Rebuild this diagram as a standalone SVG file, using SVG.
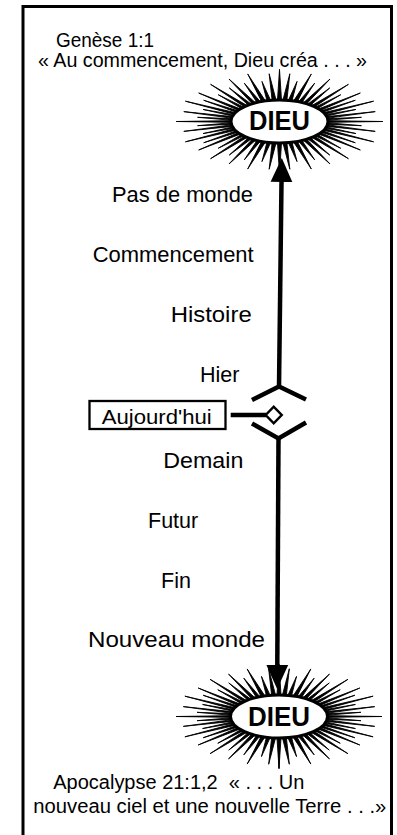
<svg xmlns="http://www.w3.org/2000/svg" xmlns:xlink="http://www.w3.org/1999/xlink" width="397" height="835" viewBox="0 0 397 835">
<style>
.lbl{font-family:"Liberation Sans",Arial,sans-serif;font-size:21.5px;fill:#000}
.verse{font-family:"Liberation Sans",Arial,sans-serif;font-size:20px;fill:#000}
.god{font-family:"Liberation Sans",Arial,sans-serif;font-size:27px;font-weight:bold;fill:#000;text-anchor:middle}
.ln{stroke:#000;stroke-width:4.5;fill:none}
.chev{stroke:#000;stroke-width:4.5;fill:none;stroke-linejoin:miter}
</style>
<defs>
<marker id="arr" markerUnits="userSpaceOnUse" markerWidth="24" markerHeight="24" viewBox="0 0 22 20" refX="0" refY="10" orient="auto">
<path d="M0,0 L22,10 L0,20 Z" fill="#000"/>
</marker>
<path id="quad" d="M0,0 L103,0 L43.94,0.89 L81.95,4.18 L43.46,2.66 L95.71,9.88 L42.50,4.40 L76.41,12.05 L41.08,6.09 L94.10,20.34 L39.20,7.72 L75.82,21.25 L36.90,9.26 L80.83,28.51 L34.19,10.70 L61.23,26.77 L31.11,12.02 L68.92,37.16 L27.69,13.21 L50.25,33.57 L23.96,14.26 L50.47,42.44 L19.98,15.15 L35.19,38.37 L15.77,15.87 L31.83,47.55 L11.39,16.42 L17.56,40.10 L6.88,16.79 L10.34,47.74 L2.30,16.98 L0,52 Z" fill="#000" stroke="#000" stroke-width="0.9" stroke-linejoin="miter"/>
<g id="burst">
<use xlink:href="#quad"/>
<use xlink:href="#quad" transform="scale(-1,1)"/>
<use xlink:href="#quad" transform="scale(1,-1)"/>
<use xlink:href="#quad" transform="scale(-1,-1)"/>
<ellipse cx="0" cy="0" rx="48.5" ry="21.5" fill="#fff" stroke="#000" stroke-width="3"/>
</g>
</defs>
<rect x="23" y="6.5" width="368.5" height="840" fill="#fff" stroke="#000" stroke-width="3"/>
<g id="verse-top">
<text class="verse" x="56" y="46.7" textLength="98" lengthAdjust="spacingAndGlyphs">Genèse 1:1</text>
<text class="verse" x="38" y="66.7" textLength="329" lengthAdjust="spacingAndGlyphs">« Au commencement, Dieu créa . . . »</text>
</g>
<g id="verse-bottom">
<text class="verse" x="53.3" y="789.3" textLength="251" lengthAdjust="spacingAndGlyphs" xml:space="preserve">Apocalypse 21:1,2  « . . . Un</text>
<text class="verse" x="33.3" y="813.3" textLength="353" lengthAdjust="spacingAndGlyphs">nouveau ciel et une nouvelle Terre . . .»</text>
</g>
<g id="connectors">
<line class="ln" x1="279" y1="387" x2="281.5" y2="182" marker-end="url(#arr)"/>
<line class="ln" x1="278.5" y1="438" x2="277.3" y2="665" marker-end="url(#arr)"/>
<line class="ln" x1="230.7" y1="415" x2="266" y2="415"/>
</g>
<g id="dieu-top" transform="translate(279.5,121.5)">
<use xlink:href="#burst"/>
<text class="god" x="0" y="8.5" textLength="61" lengthAdjust="spacingAndGlyphs">DIEU</text>
</g>
<g id="dieu-bottom" transform="translate(279,716.5)">
<use xlink:href="#burst"/>
<text class="god" x="0" y="9.5" textLength="62" lengthAdjust="spacingAndGlyphs">DIEU</text>
</g>
<g id="pas-de-monde"><text class="lbl" x="112" y="201.7" textLength="141" lengthAdjust="spacingAndGlyphs">Pas de monde</text></g>
<g id="commencement"><text class="lbl" x="92.7" y="261.7" textLength="161" lengthAdjust="spacingAndGlyphs">Commencement</text></g>
<g id="histoire"><text class="lbl" x="170.7" y="321.7" textLength="81" lengthAdjust="spacingAndGlyphs">Histoire</text></g>
<g id="hier"><text class="lbl" x="200" y="381.7">Hier</text></g>
<g id="aujourdhui">
<rect x="89.5" y="401" width="136" height="28" fill="#fff" stroke="#000" stroke-width="2.3"/>
<text class="lbl" x="101.7" y="424" style="font-size:19.5px" textLength="110" lengthAdjust="spacingAndGlyphs">Aujourd'hui</text>
</g>
<g id="present-marker">
<path class="chev" d="M252,400 L279,386.5 L306,399.5"/>
<path class="chev" d="M252,423.5 L278.5,438.5 L306,422.5"/>
<path d="M265.7,415 L273.7,406.7 L281.7,415 L273.7,423.3 Z" fill="#fff" stroke="#000" stroke-width="2.5"/>
</g>
<g id="demain"><text class="lbl" x="163.3" y="468" textLength="80" lengthAdjust="spacingAndGlyphs">Demain</text></g>
<g id="futur"><text class="lbl" x="148" y="528">Futur</text></g>
<g id="fin"><text class="lbl" x="161" y="588">Fin</text></g>
<g id="nouveau-monde"><text class="lbl" x="88" y="647" textLength="177" lengthAdjust="spacingAndGlyphs">Nouveau monde</text></g>
</svg>
